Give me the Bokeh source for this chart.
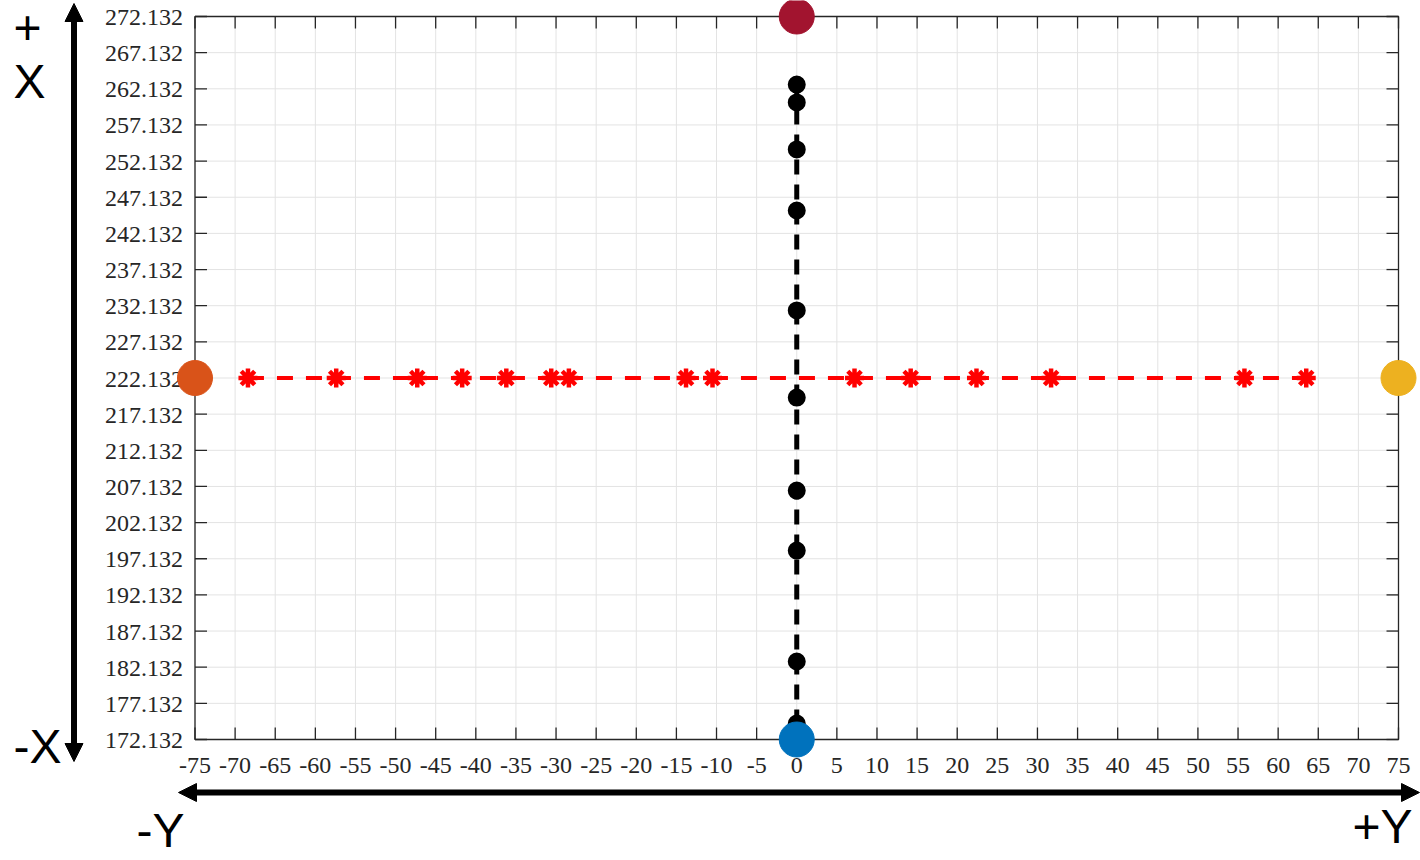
import math
from bokeh.plotting import figure
from bokeh.models import Range1d, Arrow, NormalHead, Label
from bokeh.core.properties import value
from bokeh.embed import file_html
from bokeh.resources import INLINE

# ---------------- data ----------------
# red series: points along Y at fixed X = 222.132
red_y = [-68.4, -57.4, -47.3, -41.7, -36.2, -30.6, -28.4, -13.8, -10.5,
         7.2, 14.2, 22.4, 31.7, 55.8, 63.5]
red_x = [222.132] * len(red_y)
# black series: points along X at Y = 0
black_x = [262.72, 260.24, 253.74, 245.30, 231.47, 219.43, 206.57, 198.27,
           182.92, 174.34]
black_y = [0.0] * len(black_x)
# end points (big markers)
end_y = [0, -75, 75, 0]
end_x = [272.132, 222.132, 222.132, 172.132]
end_colors = ["#A2142F", "#D95319", "#EDB120", "#0072BD"]

x_ticks = [-75, -70, -65, -60, -55, -50, -45, -40, -35, -30, -25, -20, -15,
           -10, -5, 0, 5, 10, 15, 20, 25, 30, 35, 40, 45, 50, 55, 60, 65, 70, 75]
x_tick_labels = [str(t) for t in x_ticks]
y_tick_labels = ["172.132", "177.132", "182.132", "187.132", "192.132",
                 "197.132", "202.132", "207.132", "212.132", "217.132",
                 "222.132", "227.132", "232.132", "237.132", "242.132",
                 "247.132", "252.132", "257.132", "262.132", "267.132",
                 "272.132"]
y_ticks = [float(s) for s in y_tick_labels]

XMIN, XMAX = -75, 75
YMIN, YMAX = 172.132, 272.132

# ------------- geometry (reference pixel mapping) -------------
BOX_L, BOX_R, BOX_T, BOX_B = 194.5, 1398, 16, 739
PXX = (BOX_R - BOX_L) / (XMAX - XMIN)
PXY = (BOX_B - BOX_T) / (YMAX - YMIN)


def dx(px):
    return XMIN + (px - BOX_L) / PXX


def dy(py):
    return YMIN + (BOX_B - py) / PXY


W, H = 1420, 860

p = figure(width=W, height=H,
           x_range=Range1d(dx(0), dx(W)),
           y_range=Range1d(dy(H), dy(0)),
           x_axis_location=None, y_axis_location=None,
           min_border=0, min_border_left=0, min_border_right=0,
           min_border_top=0, min_border_bottom=0,
           output_backend="svg", toolbar_location=None,
           outline_line_color=None, background_fill_color="white",
           border_fill_color="white")
p.xgrid.visible = False
p.ygrid.visible = False

AX_COL = "#262626"
GRID_COL = "#e3e3e3"
nx, ny = len(x_ticks), len(y_ticks)

# grid lines inside the box
p.segment(x0=x_ticks, x1=x_ticks, y0=[YMIN] * nx, y1=[YMAX] * nx,
          line_color=GRID_COL, line_width=1)
p.segment(x0=[XMIN] * ny, x1=[XMAX] * ny, y0=y_ticks, y1=y_ticks,
          line_color=GRID_COL, line_width=1)

# box
p.quad(left=[XMIN], right=[XMAX], bottom=[YMIN], top=[YMAX],
       fill_color=None, line_color=AX_COL, line_width=1.3)

# inward tick marks (12 px)
TL = 12
p.ray(x=x_ticks, y=[YMIN] * nx, length=TL, length_units="screen",
      angle=math.pi / 2, line_color=AX_COL, line_width=1.3)
p.ray(x=x_ticks, y=[YMAX] * nx, length=TL, length_units="screen",
      angle=-math.pi / 2, line_color=AX_COL, line_width=1.3)
p.ray(x=[XMIN] * ny, y=y_ticks, length=TL, length_units="screen",
      angle=0, line_color=AX_COL, line_width=1.3)
p.ray(x=[XMAX] * ny, y=y_ticks, length=TL, length_units="screen",
      angle=math.pi, line_color=AX_COL, line_width=1.3)

# tick labels
p.text(x=x_ticks, y=[YMIN] * nx, text=x_tick_labels, y_offset=26,
       text_font=value("Liberation Serif"), text_font_size="24px",
       text_color=AX_COL, text_align="center", text_baseline="middle")
p.text(x=[XMIN] * ny, y=y_ticks, text=y_tick_labels, x_offset=-12, y_offset=1,
       text_font=value("Liberation Serif"), text_font_size="24px",
       text_color=AX_COL, text_align="right", text_baseline="middle")

# ---------------- series ----------------
p.line(red_y, red_x, line_color="#ff0000", line_width=4, line_dash="16 13")
p.scatter(red_y, red_x, marker="asterisk", size=19, line_color="#ff0000",
          line_width=4.5)

p.line(black_y, black_x, line_color="black", line_width=5, line_dash="15 10")
p.scatter(black_y, black_x, marker="circle", size=16, fill_color="black",
          line_color="black", line_width=2)

p.scatter(end_y, end_x, marker="circle", size=35, fill_color=end_colors,
          line_color=end_colors, line_width=1)

# ---------------- direction arrows & labels ----------------
head = dict(size=18, fill_color="black", line_color="black")
p.add_layout(Arrow(x_start=dx(73.5), y_start=dy(761), x_end=dx(73.5), y_end=dy(3),
                   start=NormalHead(**head), end=NormalHead(**head),
                   line_width=6, line_color="black"))
p.add_layout(Arrow(x_start=dx(178), y_start=dy(792), x_end=dx(1419), y_end=dy(792),
                   start=NormalHead(**head), end=NormalHead(**head),
                   line_width=6, line_color="black"))

lab = dict(text_font="Liberation Sans", text_font_size="48px", text_color="black",
           text_align="center", text_baseline="middle")
p.add_layout(Label(x=dx(27), y=dy(27), text="+", **lab))
p.add_layout(Label(x=dx(29), y=dy(81), text="X", **lab))
p.add_layout(Label(x=dx(37), y=dy(746), text="-X", **lab))
p.add_layout(Label(x=dx(160), y=dy(830), text="-Y", **lab))
p.add_layout(Label(x=dx(1382), y=dy(826), text="+Y", **lab))

open("out.html", "w").write(file_html(p, INLINE))
